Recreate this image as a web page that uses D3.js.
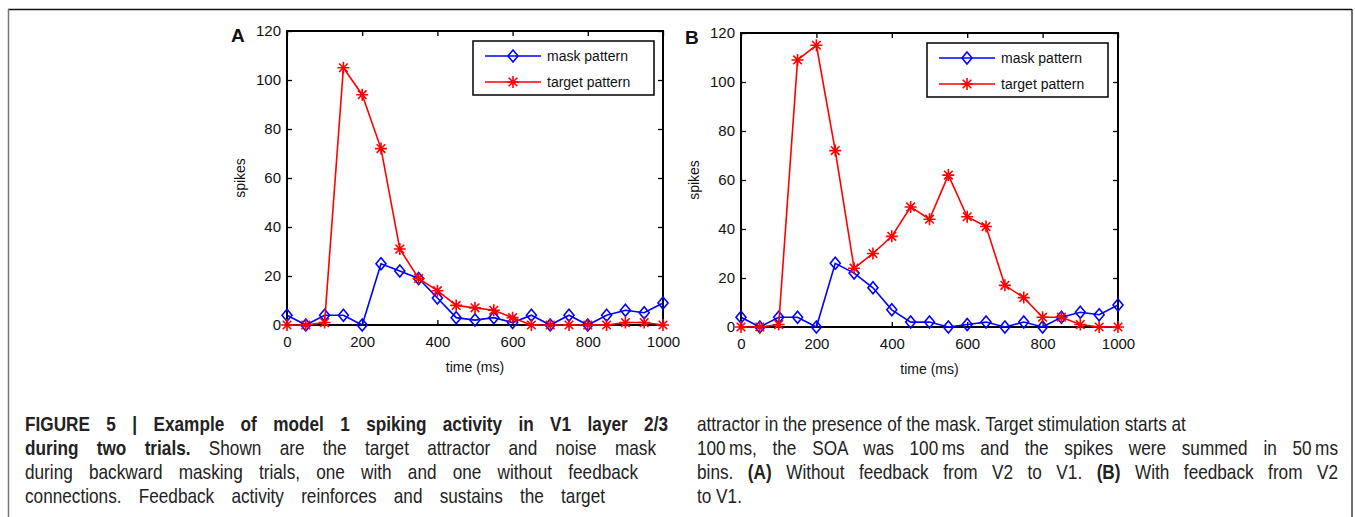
<!DOCTYPE html>
<html>
<head>
<meta charset="utf-8">
<script src="https://cdn.jsdelivr.net/npm/d3@7"></script>
<style>
  body { margin: 0; background: #fff; }
  svg { display: block; }
  .tick-label { font-family: "Liberation Sans", Arial, sans-serif; font-size: 15px; fill: #111; }
  .caption { font-family: "Liberation Sans", Arial, sans-serif; font-size: 20px; fill: #222; }
</style>
</head>
<body>
<svg width="1355" height="517"></svg>
<script>
const width = 1355;
const height = 517;

// time bins (ms)
const timeBins = [0, 50, 100, 150, 200, 250, 300, 350, 400, 450, 500,
  550, 600, 650, 700, 750, 800, 850, 900, 950, 1000];

// panel A - without feedback
const maskA = [4, 0, 4, 4, 0, 25, 22, 19, 11, 3, 2, 3, 1, 4, 0, 4, 0, 4, 6, 5, 9];
const targetA = [0, 0, 1, 105, 94, 72, 31, 19, 14, 8, 7, 6, 3, 0, 0, 0, 0, 0, 1, 1, 0];

// panel B - with feedback
const maskB = [4, 0, 4, 4, 0, 26, 22, 16, 7, 2, 2, 0, 1, 2, 0, 2, 0, 4, 6, 5, 9];
const targetB = [0, 0, 1, 109, 115, 72, 24, 30, 37, 49, 44, 62, 45, 41, 17, 12, 4, 4, 1, 0, 0];

const xTicks = [0, 200, 400, 600, 800, 1000];
const yTicks = [0, 20, 40, 60, 80, 100, 120];
const seriesNames = ["mask pattern", "target pattern"];

const svg = d3.select("svg");

// outer frame (top, left, right)
svg.append("line").attr("x1", 8).attr("x2", 1352).attr("y1", 9.5).attr("y2", 9.5)
  .attr("stroke", "#111").attr("stroke-width", 1.5);
svg.append("line").attr("x1", 8.5).attr("x2", 8.5).attr("y1", 9).attr("y2", height)
  .attr("stroke", "#777").attr("stroke-width", 1.5);
svg.append("line").attr("x1", 1352).attr("x2", 1352).attr("y1", 9).attr("y2", height)
  .attr("stroke", "#111").attr("stroke-width", 1.2);

const panels = [
  { label: "A", mask: maskA, target: targetA, left: 287, right: 663, top: 31, bottom: 325,
    legend: { x: 473, y: 41, w: 181, h: 54 } },
  { label: "B", mask: maskB, target: targetB, left: 741, right: 1118, top: 33, bottom: 327,
    legend: { x: 927, y: 43, w: 181, h: 54 } }
];

const diamond = "M0,-6L5,0L0,6L-5,0Z";
const asterisk = "M-6,0H6M0,-6V6M-4.3,-4.3L4.3,4.3M-4.3,4.3L4.3,-4.3";

panels.forEach(p => {
  const g = svg.append("g");
  const x = d3.scaleLinear().domain([0, 1000]).range([p.left, p.right]);
  const y = d3.scaleLinear().domain([0, 120]).range([p.bottom, p.top]);

  // bottom axis, ticks pointing inwards
  const xAxis = g.append("g").attr("transform", `translate(0,${p.bottom})`)
    .call(d3.axisBottom(x).tickValues(xTicks).tickSize(-5).tickPadding(11).tickFormat(d3.format("d")));
  const yAxis = g.append("g").attr("transform", `translate(${p.left},0)`)
    .call(d3.axisLeft(y).tickValues(yTicks).tickSize(-5).tickPadding(6).tickFormat(d3.format("d")));
  // mirrored ticks on top and right
  g.append("g").attr("transform", `translate(0,${p.top})`)
    .call(d3.axisTop(x).tickValues(xTicks).tickSize(-5).tickFormat(""));
  g.append("g").attr("transform", `translate(${p.right},0)`)
    .call(d3.axisRight(y).tickValues(yTicks).tickSize(-5).tickFormat(""));

  g.selectAll(".domain").remove();
  g.selectAll(".tick line").attr("stroke", "#000").attr("stroke-width", 1.3);
  g.selectAll(".tick text").attr("class", "tick-label").attr("fill", "#111");
  xAxis.selectAll("text").attr("dy", "0.75em");

  g.append("rect")
    .attr("x", p.left).attr("y", p.top)
    .attr("width", p.right - p.left).attr("height", p.bottom - p.top)
    .attr("fill", "none").attr("stroke", "#000").attr("stroke-width", 2);

  g.append("text").attr("class", "tick-label")
    .attr("x", (p.left + p.right) / 2).attr("y", p.bottom + 47)
    .attr("text-anchor", "middle").style("font-size", "14px")
    .text("time (ms)");
  g.append("text").attr("class", "tick-label")
    .attr("transform", `translate(${p.left - 42},${(p.top + p.bottom) / 2}) rotate(-90)`)
    .attr("text-anchor", "middle").style("font-size", "14px")
    .text("spikes");
  g.append("text")
    .attr("x", p.left - 56).attr("y", p.top + 11)
    .style("font-family", "'Liberation Sans', Arial, sans-serif")
    .style("font-size", "19px").style("font-weight", "bold").style("fill", "#111")
    .text(p.label);

  const line = d3.line().x((d, i) => x(timeBins[i])).y(d => y(d));

  const series = [
    { values: p.mask, color: "#0000ff", marker: diamond },
    { values: p.target, color: "#ff0000", marker: asterisk }
  ];

  series.forEach(s => {
    g.append("path").datum(s.values)
      .attr("d", line).attr("fill", "none")
      .attr("stroke", s.color).attr("stroke-width", 1.6);
    g.append("g").selectAll("path")
      .data(s.values)
      .join("path")
      .attr("transform", (d, i) => `translate(${x(timeBins[i])},${y(d)})`)
      .attr("d", s.marker)
      .attr("fill", "none")
      .attr("stroke", s.color)
      .attr("stroke-width", 1.6);
  });

  // legend
  const lg = g.append("g").attr("transform", `translate(${p.legend.x},${p.legend.y})`);
  lg.append("rect").attr("width", p.legend.w).attr("height", p.legend.h)
    .attr("fill", "#fff").attr("stroke", "#000").attr("stroke-width", 1.5);
  series.forEach((s, i) => {
    const ly = 15 + i * 26;
    lg.append("line").attr("x1", 12).attr("x2", 68).attr("y1", ly).attr("y2", ly)
      .attr("stroke", s.color).attr("stroke-width", 1.6);
    lg.append("path").attr("transform", `translate(40,${ly})`).attr("d", s.marker)
      .attr("fill", "none").attr("stroke", s.color).attr("stroke-width", 1.6);
    lg.append("text").attr("class", "tick-label").style("font-size", "14px")
      .attr("x", 74).attr("y", ly + 5).text(seriesNames[i]);
  });
});

// caption, two columns of justified lines (condensed by horizontal scaling)
const squeeze = 0.86;
const captionLeft = [
  { parts: [["FIGURE 5 | Example of model 1 spiking activity in V1 layer 2/3", true]], w: 643 },
  { parts: [["during two trials.", true], [" Shown are the target attractor and noise mask", false]], w: 631 },
  { parts: [["during backward masking trials, one with and one without feedback", false]], w: 613 },
  { parts: [["connections. Feedback activity reinforces and sustains the target", false]], w: 580 }
];
const captionRight = [
  { parts: [["attractor in the presence of the mask. Target stimulation starts at", false]], w: 463 },
  { parts: [["100\u2009ms, the SOA was 100\u2009ms and the spikes were summed in 50\u2009ms", false]], w: 641 },
  { parts: [["bins. ", false], ["(A)", true], [" Without feedback from V2 to V1. ", false], ["(B)", true], [" With feedback from V2", false]], w: 641 },
  { parts: [["to V1.", false]], w: 38 }
];

function drawCaption(lines, x0) {
  const col = svg.append("g").attr("transform", `translate(${x0},0) scale(${squeeze},1)`);
  lines.forEach((ln, i) => {
    const t = col.append("text").attr("class", "caption")
      .attr("x", 0).attr("y", 431 + i * 24);
    ln.parts.forEach(([str, bold]) => {
      t.append("tspan").text(str).style("font-weight", bold ? "bold" : "normal");
    });
    const natural = t.node().getComputedTextLength();
    const spaces = ln.parts.map(d => d[0]).join("").split(" ").length - 1;
    const ws = Math.max(0, (ln.w / squeeze - natural) / spaces);
    t.style("word-spacing", ws + "px");
  });
}
drawCaption(captionLeft, 25);
drawCaption(captionRight, 697);
</script>
</body>
</html>
